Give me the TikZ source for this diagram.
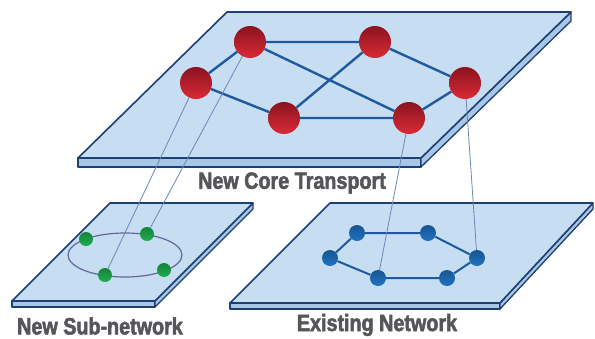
\documentclass[tikz,border=0pt]{standalone}
\usepackage{fontspec}
\usepackage{tikz}
\usetikzlibrary{calc}
\newfontfamily\labelfont[FakeStretch=0.84,FakeBold=2.2]{Liberation Sans Bold}
\definecolor{platefill}{HTML}{C6DDF2}
\definecolor{sidefill}{HTML}{A8C6E6}
\definecolor{plateline}{HTML}{1E3F73}
\definecolor{linkblue}{HTML}{1F5A9E}
\definecolor{dropline}{HTML}{6A88B5}
\definecolor{labelgray}{HTML}{55565A}
\definecolor{coretop}{HTML}{8A1420}
\definecolor{corebottom}{HTML}{DA2A35}
\definecolor{subgreen}{HTML}{1DAE50}
\definecolor{oldblue}{HTML}{1F72C2}

\begin{document}
\begin{tikzpicture}[x=1pt,y=-1pt,
	plate/.style={fill=platefill,draw=plateline,line width=1.6pt,line join=round},
	side/.style={fill=sidefill,draw=plateline,line width=1.3pt,line join=round},
	core/.style={circle,minimum size=32pt,inner sep=0pt,top color=coretop,bottom color=corebottom},
	subnode/.style={circle,minimum size=14pt,inner sep=0pt,top color=subgreen!75!black,bottom color=subgreen},
	oldnode/.style={circle,minimum size=16pt,inner sep=0pt,top color=oldblue!75!black,bottom color=oldblue},
	link/.style={draw=linkblue,line width=2.4pt},
	drop/.style={draw=dropline,line width=0.8pt},
	caption/.style={font=\labelfont\fontsize{23.5}{23.5}\selectfont,text=labelgray,inner sep=0pt}]
	\useasboundingbox (0,0) rectangle (595,338);

	% Define the corners of the three plates
	\coordinate (TA) at (227,12);  \coordinate (TB) at (571,12);
	\coordinate (TC) at (421,158); \coordinate (TD) at (78,158);
	\coordinate (LA) at (110,203); \coordinate (LB) at (253,203);
	\coordinate (LC) at (155,301); \coordinate (LD) at (12,301);
	\coordinate (RA) at (330,203); \coordinate (RB) at (593,203);
	\coordinate (RC) at (500,303); \coordinate (RD) at (230,303);

	% Draw the plates with their thickness
	\draw[side] (TD) -- (TC) -- ++(0,9) -- ($(TD)+(0,9)$) -- cycle;
	\draw[side] (TC) -- (TB) -- ++(0,9) -- ($(TC)+(0,9)$) -- cycle;
	\draw[plate] (TA) -- (TB) -- (TC) -- (TD) -- cycle;
	\draw[side] (LD) -- (LC) -- ++(0,6) -- ($(LD)+(0,6)$) -- cycle;
	\draw[side] (LC) -- (LB) -- ++(0,6) -- ($(LC)+(0,6)$) -- cycle;
	\draw[plate] (LA) -- (LB) -- (LC) -- (LD) -- cycle;
	\draw[side] (RD) -- (RC) -- ++(0,6) -- ($(RD)+(0,6)$) -- cycle;
	\draw[side] (RC) -- (RB) -- ++(0,6) -- ($(RC)+(0,6)$) -- cycle;
	\draw[plate] (RA) -- (RB) -- (RC) -- (RD) -- cycle;

	% Ring of the sub-network
	\draw[draw=gray!80!blue,line width=1.2pt] (125,255) ellipse (57 and 22);

	% Nodes of the core transport
	\node[core] (r1) at (250,42) {};
	\node[core] (r2) at (375,42) {};
	\node[core] (r3) at (196,83) {};
	\node[core] (r4) at (465,83) {};
	\node[core] (r5) at (284,118) {};
	\node[core] (r6) at (409,118) {};

	% Nodes of the sub-network
	\node[subnode] (g1) at (86,239) {};
	\node[subnode] (g2) at (147,234) {};
	\node[subnode] (g3) at (105,275) {};
	\node[subnode] (g4) at (164,270) {};

	% Nodes of the existing network
	\node[oldnode] (b1) at (357,233) {};
	\node[oldnode] (b2) at (428,233) {};
	\node[oldnode] (b3) at (330,258) {};
	\node[oldnode] (b4) at (477,258) {};
	\node[oldnode] (b5) at (378,278) {};
	\node[oldnode] (b6) at (447,278) {};

	% Links
	\draw[link] (r1) -- (r2) (r1) -- (r3) (r3) -- (r5) (r5) -- (r6);
	\draw[link] (r2) -- (r5) (r1) -- (r6) (r2) -- (r4) (r4) -- (r6);
	\draw[link,line width=2pt] (b1) -- (b2) -- (b4) -- (b6) -- (b5) -- (b3) -- (b1);

	% Drops between the plates
	\draw[drop] (r3) -- (g3);
	\draw[drop] (r1) -- (g2);
	\draw[drop] (r6) -- (b5);
	\draw[drop] (r4) -- (b4);

	% Labels
	\node[caption] (coreLabel) at (292,183) {New Core Transport};
	\node[caption] (subLabel) at (100,326) {New Sub-network};
	\node[caption] (oldLabel) at (377,325) {Existing Network};
\end{tikzpicture}
\end{document}
